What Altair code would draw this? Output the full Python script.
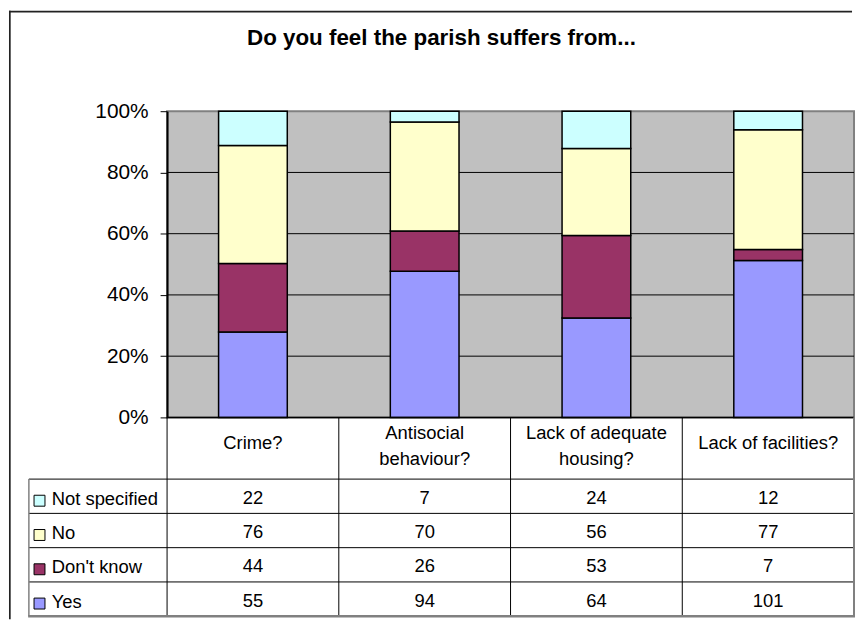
import altair as alt
import pandas as pd

# ---------------- data ----------------
categories = ["Crime?", "Antisocial behaviour?", "Lack of adequate housing?", "Lack of facilities?"]
header_labels = ["Crime?", "Antisocial\nbehaviour?", "Lack of adequate\nhousing?", "Lack of facilities?"]
series = ["Yes", "Don't know", "No", "Not specified"]
colors = ["#9999FF", "#993366", "#FFFFCC", "#CCFFFF"]
yes = [55, 94, 64, 101]
dont_know = [44, 26, 53, 7]
no = [76, 70, 56, 77]
not_specified = [22, 7, 24, 12]
y_ticks = [0, 0.2, 0.4, 0.6, 0.8, 1.0]
chart_title = "Do you feel the parish suffers from..."

FONT = "Liberation Sans"
HEADER = 1.8          # header row height in table units
NROWS = len(series)
LINE_H = 26           # px between header lines
ROW_PX = 200 / (HEADER + NROWS)

values = {"Yes": yes, "Don't know": dont_know, "No": no, "Not specified": not_specified}
recs = []
for si, s in enumerate(series):
    for ci, c in enumerate(categories):
        recs.append({"cat": c, "series": s, "value": values[s][ci], "order": si,
                     "row_y": HEADER + (NROWS - 1 - si) + 0.5})
df = pd.DataFrame(recs)
df_series = pd.DataFrame({"series": series,
                          "row_y": [HEADER + (NROWS - 1 - i) + 0.5 for i in range(NROWS)]})
n_lines = [lbl.count("\n") + 1 for lbl in header_labels]
df_header = pd.DataFrame({"cat": categories, "label": header_labels,
                          "hy": [0.74 - (n - 1) * (LINE_H / 2 - 3.5) / ROW_PX for n in n_lines]})
df_rows = pd.DataFrame({"rb": [HEADER + i for i in range(NROWS)]})
df_one = pd.DataFrame({"k": [0]})

color_scale = alt.Scale(domain=series, range=colors)

# ---------------- top: stacked 100% columns ----------------
W, H = 691, 308
xbar = alt.X("cat:N", sort=categories, scale=alt.Scale(paddingInner=0.6, paddingOuter=0.3), axis=None)
yscale = alt.Scale(domain=[0, 1], nice=False)
yaxis = alt.Axis(values=y_ticks, format=".0%", title=None, grid=False,
                 labelFont=FONT, labelFontSize=21, labelColor="black",
                 domainColor="black", domainWidth=2, tickColor="black",
                 tickSize=7, tickWidth=1, labelPadding=12)

grid = alt.Chart(pd.DataFrame({"g": y_ticks[1:-1]})).mark_rule(
    color="black", strokeWidth=1, strokeJoin="round").encode(
    y=alt.Y("g:Q", scale=yscale, axis=yaxis)
)
bars = alt.Chart(df).mark_bar(stroke="black", strokeWidth=1.5).encode(
    x=xbar,
    y=alt.Y("value:Q", stack="normalize", scale=yscale, axis=yaxis),
    color=alt.Color("series:N", scale=color_scale, legend=None),
    order=alt.Order("order:Q"),
)
# outer chart frame (top and left edges), drawn as thin filled rects
frame_left = alt.Chart(df_one).mark_rect(color="#222222").encode(
    x=alt.value(-159), x2=alt.value(-157.3), y=alt.value(-101), y2=alt.value(511))
frame_top = alt.Chart(df_one).mark_rect(color="#222222").encode(
    x=alt.value(-159), x2=alt.value(689), y=alt.value(-101), y2=alt.value(-99.3))

top = alt.layer(frame_left, frame_top, grid, bars).properties(
    width=W, height=H,
    view=alt.ViewBackground(fill="#C0C0C0", stroke="#808080", strokeWidth=2),
    title=alt.TitleParams(text=chart_title, font=FONT, fontSize=22.5, fontWeight="bold",
                          color="black", anchor="middle", offset=0, baseline="alphabetic",
                          dy=56.5, dx=-69.5),
)

# ---------------- bottom: data table ----------------
TH = 200
xt = alt.X("cat:N", sort=categories, scale=alt.Scale(paddingInner=0, paddingOuter=0), axis=None)
ysc = alt.Scale(domain=[0, HEADER + NROWS], reverse=True, nice=False, zero=False)
TFS = 18.5

header_txt = alt.Chart(df_header).mark_text(font=FONT, fontSize=TFS, color="black",
                                            lineBreak="\n", lineHeight=LINE_H, baseline="middle").encode(
    x=xt, y=alt.Y("hy:Q", scale=ysc, axis=None), text="label:N")
cell_txt = alt.Chart(df).mark_text(font=FONT, fontSize=TFS, color="black", baseline="middle", dy=1.5).encode(
    x=xt, y=alt.Y("row_y:Q", scale=ysc, axis=None), text="value:Q")
legend_txt = alt.Chart(df_series).mark_text(font=FONT, fontSize=TFS, color="black",
                                            align="left", baseline="middle", dy=2.5).encode(
    x=alt.value(-116), y=alt.Y("row_y:Q", scale=ysc, axis=None), text="series:N")
swatch = alt.Chart(df_series).mark_square(size=121, filled=True, opacity=1, stroke="black",
                                          strokeWidth=1, yOffset=4.5).encode(
    x=alt.value(-128.3), y=alt.Y("row_y:Q", scale=ysc, axis=None),
    fill=alt.Fill("series:N", scale=color_scale, legend=None))
row_lines = alt.Chart(df_rows).mark_rule(color="black", strokeWidth=1, strokeJoin="round").encode(
    x=alt.value(-139), x2=alt.value(W), y=alt.Y("rb:Q", scale=ysc, axis=None))
col_lines = alt.Chart(pd.DataFrame({"cat": categories})).mark_rule(
    color="black", strokeWidth=1, strokeJoin="round").encode(
    x=alt.X("cat:N", sort=categories, bandPosition=0,
            scale=alt.Scale(paddingInner=0, paddingOuter=0), axis=None),
    y=alt.value(0), y2=alt.value(TH))
top_line = alt.Chart(df_one).mark_rule(color="black", strokeWidth=1.5, strokeJoin="round").encode(
    x=alt.value(0), x2=alt.value(W), y=alt.value(0))
right_edge = alt.Chart(df_one).mark_rule(color="#808080", strokeWidth=2, strokeJoin="round").encode(
    x=alt.value(W), y=alt.value(0), y2=alt.value(TH))
left_edge = alt.Chart(pd.DataFrame({"y0": [HEADER]})).mark_rule(
    color="#808080", strokeWidth=1.5, strokeJoin="round").encode(
    x=alt.value(-139), y=alt.Y("y0:Q", scale=ysc, axis=None), y2=alt.value(TH))
bottom_edge = alt.Chart(df_one).mark_rule(color="#808080", strokeWidth=2.5, strokeJoin="round").encode(
    x=alt.value(-139.75), x2=alt.value(W + 1), y=alt.value(TH))

table = alt.layer(row_lines, col_lines, top_line, right_edge, left_edge, bottom_edge,
                  header_txt, cell_txt, swatch, legend_txt).properties(width=W, height=TH)

chart = alt.vconcat(top, table, spacing=0, bounds="flush").properties(
    padding=0, background="white"
).configure_view(strokeWidth=0)

chart.save("out.html", embed_options={"renderer": "svg", "actions": False})
